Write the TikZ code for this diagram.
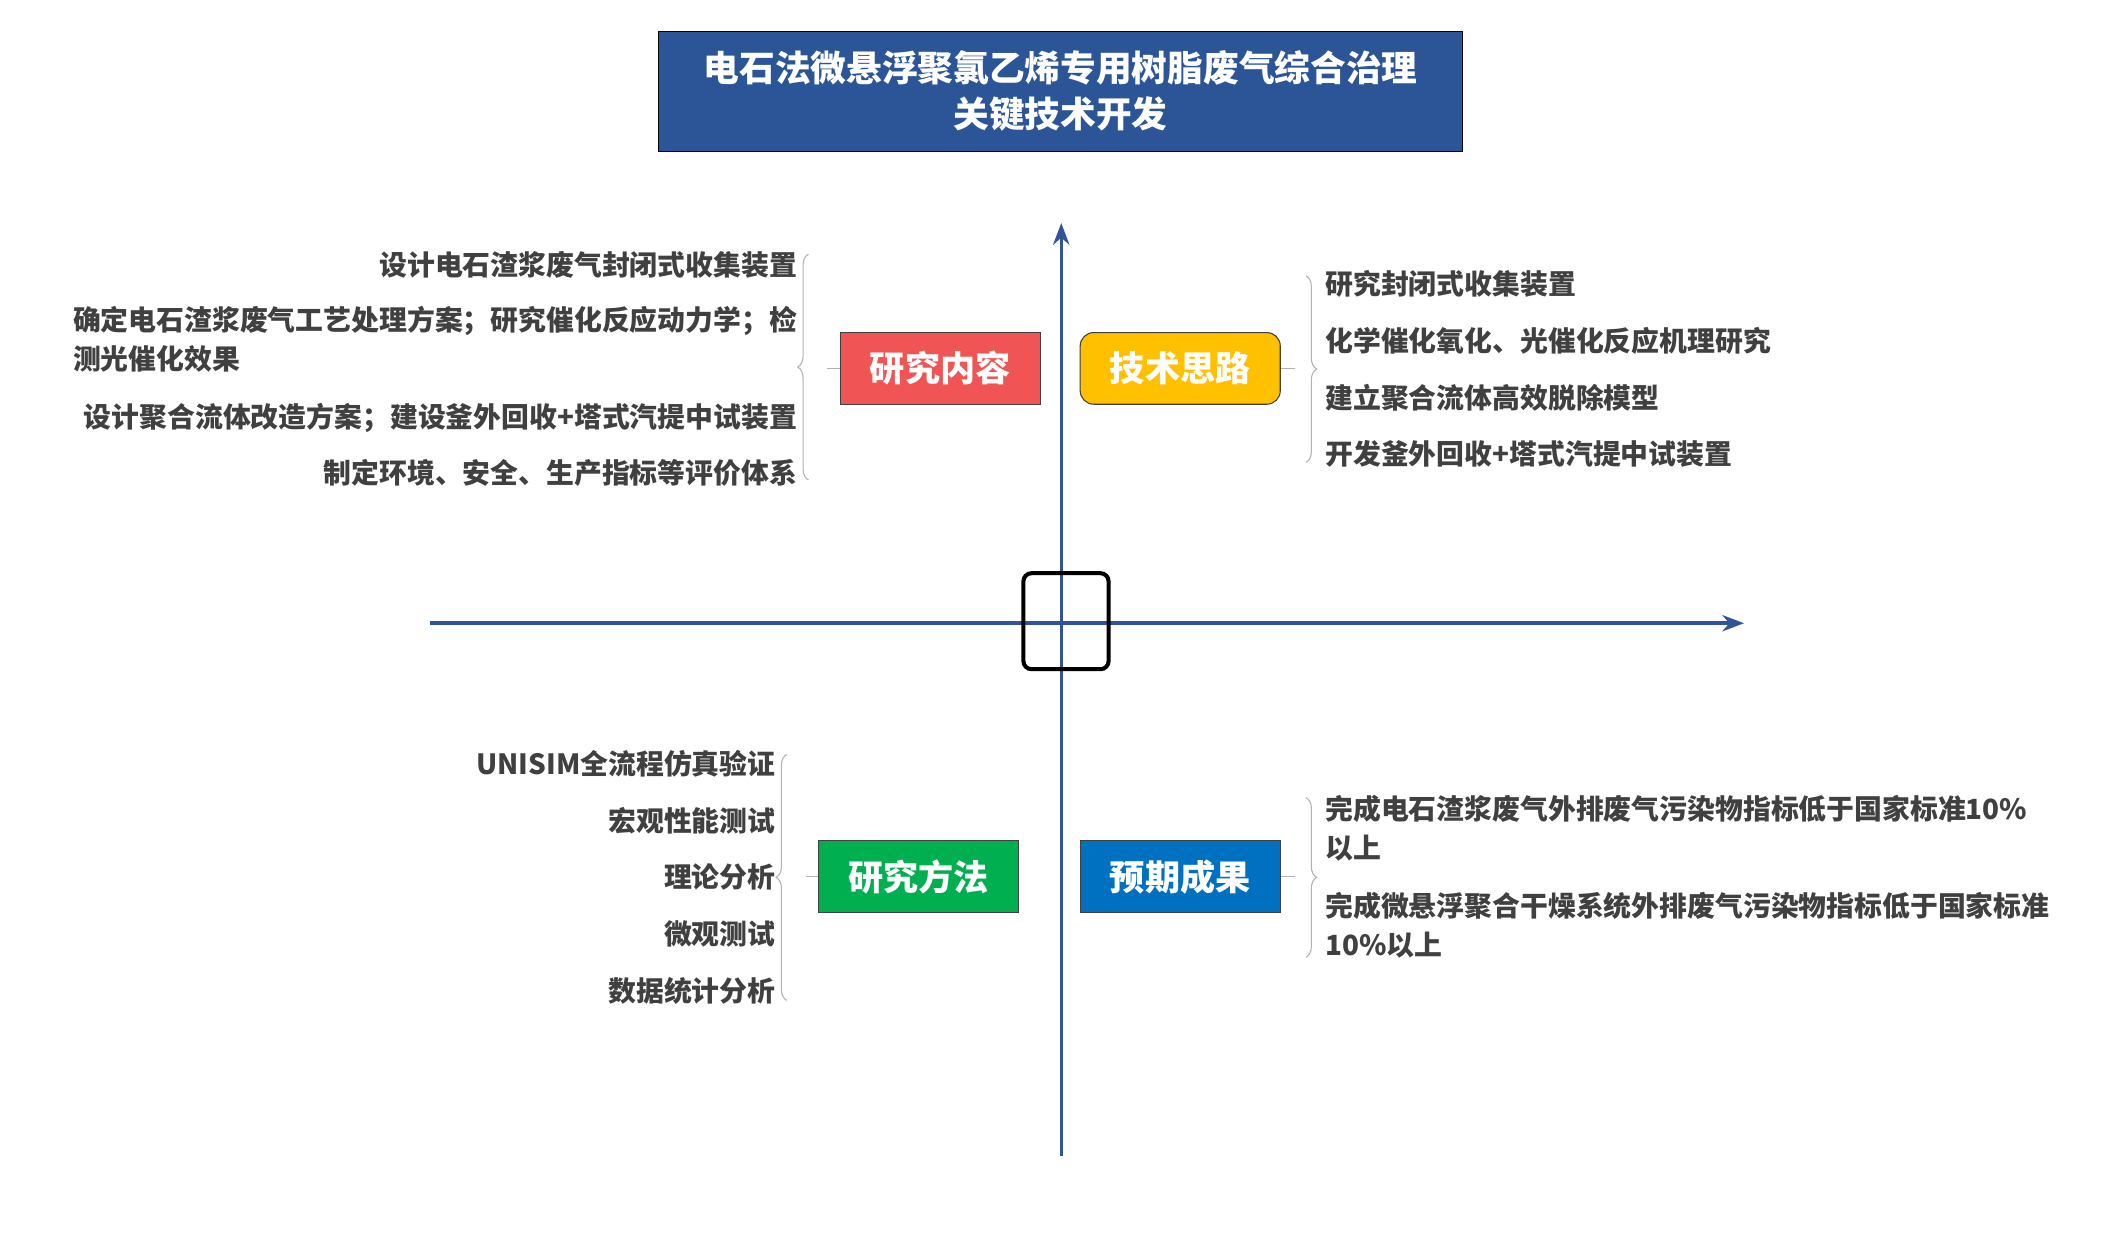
\documentclass[tikz,border=0pt]{standalone}
\usepackage{fontspec}
\setmainfont{Noto Sans CJK SC}
\usetikzlibrary{decorations.pathreplacing, arrows.meta}
\definecolor{axisblue}{HTML}{2F5597}
\definecolor{titleblue}{HTML}{2B5597}
\definecolor{boxred}{HTML}{F05454}
\definecolor{boxyellow}{HTML}{FFC000}
\definecolor{boxgreen}{HTML}{00B050}
\definecolor{boxblue}{HTML}{0070C0}
\definecolor{itemgray}{HTML}{404040}
\tikzset{
  box/.style={draw=itemgray, minimum width=74pt, minimum height=26.5pt,
    text=white, font=\fontsize{13}{15}\selectfont\bfseries},
  item/.style={text=itemgray, font=\fontsize{10.3}{14.5}\selectfont\bfseries, inner sep=0pt},
  brc/.style={draw=gray!60, thin, decorate, decoration={brace, amplitude=4pt}},
  lnk/.style={draw=gray!60, thin},
  axis/.style={draw=axisblue, line width=1.3pt, -{Stealth[length=8pt, width=6pt]}}
}
\begin{document}
\begin{tikzpicture}[x=0.5pt, y=-0.5pt]
  \useasboundingbox (0,0) rectangle (1560,924);

  % Title
  \node[draw=black, fill=titleblue, minimum width=297.5pt, minimum height=44.5pt,
    text=white, align=center, font=\fontsize{13.2}{17}\selectfont\bfseries]
    (title) at (784.5,67.5) {电石法微悬浮聚氯乙烯专用树脂废气综合治理\\关键技术开发};

  % Axes
  \coordinate (ybot) at (785,855);
  \coordinate (ytop) at (785,165);
  \coordinate (xlft) at (318,461);
  \coordinate (xrgt) at (1290,461);
  \draw[axis] (ybot) -- (ytop);
  \draw[axis] (xlft) -- (xrgt);
  \node[draw=black, line width=1.5pt, rounded corners=3pt, minimum width=31.5pt,
    minimum height=35.5pt] (center) at (788.5,459.5) {};

  % Quadrant boxes
  \node[box, fill=boxred] (content) at (695.5,272.5) {研究内容};
  \node[box, fill=boxyellow, rounded corners=5pt] (idea) at (873,272.5) {技术思路};
  \node[box, fill=boxgreen] (method) at (679.5,648.5) {研究方法};
  \node[box, fill=boxblue] (result) at (873,648.5) {预期成果};

  % Research content
  \node[item, anchor=east] (c1) at (590,196) {设计电石渣浆废气封闭式收集装置};
  \node[item, anchor=east, align=left] (c2) at (590,251)
    {确定电石渣浆废气工艺处理方案；研究催化反应动力学；检\\测光催化效果};
  \node[item, anchor=east] (c3) at (590,309) {设计聚合流体改造方案；建设釜外回收+塔式汽提中试装置};
  \node[item, anchor=east] (c4) at (590,350) {制定环境、安全、生产指标等评价体系};
  \draw[brc] (598,355) -- (598,188);
  \coordinate (cbt) at (612,272.5);
  \draw[lnk] (content.west) -- (cbt);

  % Technical ideas
  \node[item, anchor=west] (t1) at (980,210) {研究封闭式收集装置};
  \node[item, anchor=west] (t2) at (980,252) {化学催化氧化、光催化反应机理研究};
  \node[item, anchor=west] (t3) at (980,294) {建立聚合流体高效脱除模型};
  \node[item, anchor=west] (t4) at (980,336) {开发釜外回收+塔式汽提中试装置};
  \draw[brc] (966,204) -- (966,342);
  \coordinate (tbt) at (958,272.5);
  \draw[lnk] (idea.east) -- (tbt);

  % Research methods
  \node[item, anchor=east] (m1) at (574,565) {UNISIM全流程仿真验证};
  \node[item, anchor=east] (m2) at (574,607) {宏观性能测试};
  \node[item, anchor=east] (m3) at (574,649) {理论分析};
  \node[item, anchor=east] (m4) at (574,691) {微观测试};
  \node[item, anchor=east] (m5) at (574,733) {数据统计分析};
  \draw[brc] (582,740) -- (582,558);
  \coordinate (mbt) at (596,648.5);
  \draw[lnk] (method.west) -- (mbt);

  % Expected results
  \node[item, anchor=west, align=left] (r1) at (980,612.5)
    {完成电石渣浆废气外排废气污染物指标低于国家标准10\%\\以上};
  \node[item, anchor=west, align=left] (r2) at (980,684.5)
    {完成微悬浮聚合干燥系统外排废气污染物指标低于国家标准\\10\%以上};
  \draw[brc] (966,590) -- (966,708);
  \coordinate (rbt) at (958,648.5);
  \draw[lnk] (result.east) -- (rbt);
\end{tikzpicture}
\end{document}
